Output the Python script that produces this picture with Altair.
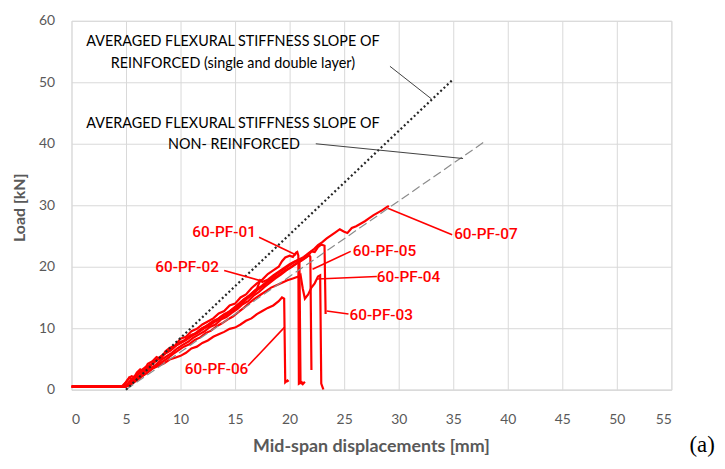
import altair as alt
import pandas as pd

# ---------------- data ----------------
pf01_x = [0, 4.6, 5.0, 5.3, 5.6, 6.0, 6.3, 6.6, 7.0, 7.4, 7.8, 8.2, 8.6, 9.0, 9.5, 10.0, 10.5, 11.0, 11.5, 12.0, 12.5, 13.0, 13.5, 14.0, 14.5, 15.0, 15.5, 16.0, 16.5, 17.0, 17.5, 18.0, 18.5, 19.0, 19.3, 19.6, 20.0, 20.3, 20.6, 20.7, 20.8, 20.85, 21.0, 21.2, 21.4]
pf01_y = [0.5, 0.5, 1.2, 2.0, 1.6, 2.8, 3.3, 3.0, 4.2, 4.6, 5.3, 5.0, 6.2, 6.8, 7.2, 8.3, 8.6, 9.5, 9.9, 10.6, 11.1, 11.6, 12.4, 12.8, 13.7, 14.0, 15.0, 15.5, 16.5, 17.3, 17.9, 18.8, 19.4, 20.0, 20.9, 21.5, 21.8, 21.6, 22.3, 22.4, 21.8, 1.0, 1.2, 0.9, 1.3]

pf02_x = [0, 4.8, 5.2, 5.6, 6.0, 6.5, 7.0, 7.5, 8.0, 8.5, 9.0, 9.5, 10.0, 10.5, 11.0, 11.5, 12.0, 12.5, 13.0, 13.5, 14.0, 14.5, 15.0, 15.5, 16.0, 16.5, 17.0, 17.3, 17.5, 18.0, 18.5, 19.0, 19.5, 20.0, 20.5, 20.9, 21.0, 21.2]
pf02_y = [0.5, 0.5, 1.0, 1.8, 2.4, 3.0, 3.6, 4.3, 5.0, 5.8, 6.3, 7.1, 7.6, 8.1, 8.9, 9.2, 10.0, 10.5, 11.2, 11.6, 12.3, 12.7, 13.4, 14.2, 14.9, 15.6, 16.4, 17.8, 17.5, 17.9, 18.6, 19.2, 19.8, 20.4, 20.9, 21.2, 1.1, 1.3]

pf03_x = [0, 4.9, 5.3, 5.7, 6.2, 6.7, 7.2, 7.7, 8.2, 8.7, 9.2, 9.7, 10.2, 10.7, 11.2, 11.7, 12.2, 12.7, 13.2, 13.7, 14.2, 14.7, 15.2, 15.7, 16.2, 16.7, 17.2, 17.7, 18.2, 18.7, 19.2, 19.7, 20.2, 20.7, 21.2, 21.7, 22.0, 22.3, 22.6, 22.9, 23.2, 23.3]
pf03_y = [0.5, 0.5, 0.9, 1.5, 2.2, 2.9, 3.5, 4.0, 4.8, 5.4, 6.0, 6.7, 7.3, 7.8, 8.5, 9.0, 9.5, 10.2, 10.6, 11.4, 11.8, 12.5, 13.1, 13.9, 14.4, 15.3, 15.9, 16.7, 17.4, 18.1, 18.7, 19.4, 20.0, 20.6, 21.2, 21.8, 22.5, 22.4, 23.2, 23.6, 23.4, 12.3]

pf04_x = [0, 5.0, 5.4, 5.8, 6.3, 6.8, 7.3, 7.8, 8.3, 8.8, 9.3, 9.8, 10.3, 10.8, 11.3, 11.8, 12.3, 12.8, 13.3, 13.8, 14.3, 14.8, 15.3, 15.8, 16.3, 16.8, 17.3, 17.8, 18.3, 18.8, 19.3, 19.8, 20.3, 20.8, 21.0, 21.2, 21.4, 21.7, 22.0, 22.3, 22.6, 22.8, 22.9, 23.1]
pf04_y = [0.5, 0.5, 0.8, 1.4, 2.0, 2.6, 3.3, 3.9, 4.5, 5.1, 5.8, 6.4, 7.0, 7.4, 8.1, 8.5, 9.2, 9.6, 10.3, 10.8, 11.4, 11.9, 12.6, 13.3, 14.1, 14.8, 15.4, 16.0, 16.6, 17.0, 17.4, 17.8, 18.1, 18.4, 18.7, 16.5, 14.8, 15.5, 16.6, 17.3, 18.4, 18.6, 1.0, 0.0]

pf05_x = [0, 4.9, 5.3, 5.7, 6.1, 6.6, 7.1, 7.6, 8.1, 8.6, 9.1, 9.6, 10.1, 10.6, 11.1, 11.6, 12.1, 12.6, 13.1, 13.6, 14.1, 14.6, 15.1, 15.6, 16.1, 16.6, 17.1, 17.6, 18.1, 18.6, 19.1, 19.6, 20.1, 20.6, 21.1, 21.5, 21.8, 21.9, 22.0]
pf05_y = [0.5, 0.5, 1.3, 1.9, 2.5, 3.3, 3.7, 4.6, 5.1, 5.9, 6.4, 7.2, 7.7, 8.2, 8.8, 9.3, 9.9, 10.4, 11.0, 11.5, 12.0, 12.7, 13.2, 14.0, 14.8, 15.5, 16.3, 16.9, 17.6, 18.2, 18.8, 19.4, 19.9, 20.5, 21.0, 21.5, 21.9, 21.6, 3.2]

pf06_x = [0, 5.0, 5.5, 6.0, 6.5, 7.0, 7.5, 8.0, 8.5, 9.0, 9.5, 10.0, 10.5, 11.0, 11.5, 12.0, 12.5, 13.0, 13.5, 14.0, 14.5, 15.0, 15.5, 16.0, 16.5, 17.0, 17.5, 18.0, 18.5, 19.0, 19.3, 19.5, 19.6, 19.8, 19.9]
pf06_y = [0.5, 0.5, 0.9, 1.5, 2.2, 2.8, 3.5, 3.9, 4.3, 4.9, 5.2, 5.5, 6.0, 6.7, 7.0, 7.6, 8.0, 8.6, 9.0, 9.4, 9.9, 10.1, 10.6, 11.2, 11.6, 12.3, 12.8, 13.3, 13.7, 14.4, 15.0, 14.8, 1.2, 1.5, 1.3]

pf07_x = [0, 4.7, 5.1, 5.5, 5.9, 6.3, 6.8, 7.3, 7.8, 8.3, 8.8, 9.3, 9.8, 10.3, 10.8, 11.3, 11.8, 12.3, 12.8, 13.3, 13.8, 14.3, 14.8, 15.3, 15.8, 16.3, 16.8, 17.3, 17.8, 18.3, 18.8, 19.3, 19.8, 20.3, 20.8, 21.3, 21.8, 22.2, 22.6, 23.0, 23.4, 23.8, 24.2, 24.6, 25.0, 25.3, 25.7, 26.1, 26.5, 26.9, 27.3, 27.7, 28.1, 28.5, 28.9, 29.1]
pf07_y = [0.5, 0.5, 1.5, 2.2, 2.0, 3.0, 3.7, 4.1, 4.9, 5.6, 6.2, 6.7, 7.6, 8.0, 8.7, 9.1, 9.8, 10.3, 10.9, 11.3, 12.0, 12.5, 13.2, 13.9, 14.7, 15.3, 16.1, 16.7, 17.4, 18.1, 18.8, 19.4, 20.0, 20.6, 21.1, 21.6, 22.3, 22.8, 23.5, 24.0, 24.6, 25.1, 25.6, 26.1, 25.7, 25.5, 26.3, 26.6, 27.0, 27.4, 27.9, 28.4, 28.8, 29.2, 29.7, 29.9]

# averaged stiffness slopes (start, end)
reinf_x = [5, 35]
reinf_y = [0, 50.5]
nonreinf_x = [5, 38]
nonreinf_y = [0, 40.5]

# annotation texts
note_text = ["AVERAGED FLEXURAL STIFFNESS SLOPE OF", "REINFORCED (single and double layer)",
             "AVERAGED FLEXURAL STIFFNESS SLOPE OF", "NON- REINFORCED"]
note_x = [14.8, 14.8, 14.8, 14.9]
note_y = [56.5, 53.0, 43.2, 39.8]
note_lx1 = [29.2, 22.4]
note_ly1 = [52.6, 40.0]
note_lx2 = [33.0, 35.9]
note_ly2 = [47.3, 37.6]

labels = ["60-PF-01", "60-PF-02", "60-PF-06", "60-PF-05", "60-PF-04", "60-PF-03", "60-PF-07"]
label_x = [14.0, 10.6, 13.3, 28.7, 30.9, 28.4, 38.0]
label_y = [25.6, 19.95, 3.4, 22.5, 18.3, 12.1, 25.3]
lead_x1 = [17.2, 14.0, 16.2, 25.6, 28.0, 25.4, 34.9]
lead_y1 = [24.8, 19.4, 3.9, 22.5, 18.4, 12.3, 25.2]
lead_x2 = [20.6, 17.4, 19.5, 22.1, 22.5, 23.4, 29.0]
lead_y2 = [21.9, 17.7, 10.1, 19.6, 18.0, 12.8, 29.5]

x_ticks = list(range(0, 56, 5))
y_ticks = list(range(0, 61, 10))

# ---------------- frames ----------------
series = {
    "60-PF-01": (pf01_x, pf01_y), "60-PF-02": (pf02_x, pf02_y), "60-PF-03": (pf03_x, pf03_y),
    "60-PF-04": (pf04_x, pf04_y), "60-PF-05": (pf05_x, pf05_y), "60-PF-06": (pf06_x, pf06_y),
    "60-PF-07": (pf07_x, pf07_y),
}
rows = []
for name, (xs_, ys_) in series.items():
    for i, (a, b) in enumerate(zip(xs_, ys_)):
        rows.append({"curve": name, "i": i, "x": a, "y": b})
curves_df = pd.DataFrame(rows)

reinf_df = pd.DataFrame({"x": reinf_x, "y": reinf_y})
nonreinf_df = pd.DataFrame({"x": nonreinf_x, "y": nonreinf_y})
notes_df = pd.DataFrame({"t": note_text, "x": note_x, "y": note_y})
note_lead_df = pd.DataFrame({"x": note_lx1, "y": note_ly1, "x2": note_lx2, "y2": note_ly2})
labels_df = pd.DataFrame({"t": labels, "x": label_x, "y": label_y})
lead_df = pd.DataFrame({"x": lead_x1, "y": lead_y1, "x2": lead_x2, "y2": lead_y2})

FONT = "Lato, 'Open Sans', sans-serif"
LABEL_FONT = "Roboto, Lato, sans-serif"
GRAY = "#595959"

xs = alt.Scale(domain=[0, 55], nice=False, zero=False)
ys = alt.Scale(domain=[0, 60], nice=False)

x_axis = alt.Axis(values=x_ticks, grid=True, gridColor="#d9d9d9", domainColor="#d9d9d9",
                  ticks=False, tickSize=0, labelPadding=23, labelFontSize=14, labelColor=GRAY,
                  labelFont=FONT, title="Mid-span displacements [mm]", titleFont=FONT,
                  titleFontSize=18, titleFontWeight="bold", titleColor=GRAY,
                  titleX=302, titleY=57, titleBaseline="middle", titleAlign="center")
y_axis = alt.Axis(values=y_ticks, grid=True, gridColor="#d9d9d9", domain=False,
                  ticks=False, tickSize=0, labelPadding=17, labelFontSize=14, labelColor=GRAY,
                  labelFont=FONT, title="Load  [kN]", titleFont=FONT, titleFontSize=16,
                  titleFontWeight="bold", titleColor=GRAY, titleX=-52, titleY=188,
                  titleAngle=-90, titleBaseline="middle", titleAlign="center")

base_curves = alt.Chart(curves_df).mark_line(color="#ff0000", strokeWidth=2.2, clip=True).encode(
    x=alt.X("x:Q", scale=xs, axis=x_axis),
    y=alt.Y("y:Q", scale=ys, axis=y_axis),
    detail="curve:N",
    order="i:Q",
)

reinf = alt.Chart(reinf_df).mark_line(color="#262626", strokeWidth=2.2, strokeDash=[2, 2.6]).encode(
    x=alt.X("x:Q", scale=xs), y=alt.Y("y:Q", scale=ys))
nonreinf = alt.Chart(nonreinf_df).mark_line(color="#8c8c8c", strokeWidth=1.2, strokeDash=[9, 4]).encode(
    x=alt.X("x:Q", scale=xs), y=alt.Y("y:Q", scale=ys))

note_leads = alt.Chart(note_lead_df).mark_rule(color="#404040", strokeWidth=1).encode(
    x=alt.X("x:Q", scale=xs), y=alt.Y("y:Q", scale=ys), x2="x2:Q", y2="y2:Q")
notes = alt.Chart(notes_df).mark_text(font=FONT, fontSize=14.5, color="#000000",
                                      align="center", baseline="middle").encode(
    x=alt.X("x:Q", scale=xs), y=alt.Y("y:Q", scale=ys), text="t:N")

red_leads = alt.Chart(lead_df).mark_rule(color="#ff0000", strokeWidth=1.6).encode(
    x=alt.X("x:Q", scale=xs), y=alt.Y("y:Q", scale=ys), x2="x2:Q", y2="y2:Q")
red_labels = alt.Chart(labels_df).mark_text(font=LABEL_FONT, fontSize=15.5, fontWeight=500, color="#ff0000",
                                            align="center", baseline="middle").encode(
    x=alt.X("x:Q", scale=xs), y=alt.Y("y:Q", scale=ys), text="t:N")

panel_tag = alt.Chart(pd.DataFrame({"t": ["(a)"]})).mark_text(
    font="'Liberation Serif', serif", fontSize=23, color="#000000", align="center", baseline="middle"
).encode(x=alt.value(636), y=alt.value(428), text="t:N")

chart = alt.layer(
    base_curves, nonreinf, reinf, note_leads, notes, red_leads, red_labels, panel_tag
).properties(
    width=605, height=372,
    autosize=alt.AutoSizeParams(type="none"),
    padding={"left": 64, "top": 11, "right": 46, "bottom": 70},
).configure_view(stroke=None).configure(background="white")

chart.save("out.html", embed_options={"renderer": "svg", "actions": False})
